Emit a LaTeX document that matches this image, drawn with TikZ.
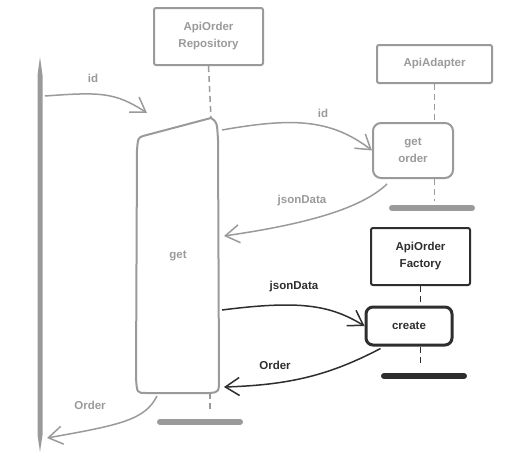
\documentclass[tikz,border=0pt]{standalone}
\usepackage{fontspec}
\setmainfont{Liberation Sans}
\usetikzlibrary{arrows.meta}
\definecolor{softgray}{HTML}{9A9A9A}
\definecolor{inkdark}{HTML}{2E2E2E}
\begin{document}
\begin{tikzpicture}[x = 1pt, y = -1pt,
    font = \fontsize{11.5}{17}\selectfont\bfseries,
    box/.style = {draw, line width = 2pt, rounded corners = 2pt, align = center, inner sep = 0pt},
    light/.style = {draw = softgray, text = softgray},
    dark/.style = {draw = inkdark, text = inkdark},
    life/.style = {dash pattern = on 6pt off 4pt, line width = 1.5pt},
    bar/.style = {line width = 6pt, line cap = round},
    msg/.style = {line width = 1.5pt, -{Straight Barb[length = 14pt, width = 18pt, line width = 1.5pt]}}]
    \useasboundingbox (0,0) rectangle (507,466);
    % participants
    \node[box, light, minimum width = 109pt, minimum height = 57pt] (repo) at (208.5,36.5) {ApiOrder\\Repository};
    \node[box, light, minimum width = 115pt, minimum height = 38pt] (adapter) at (434.5,64) {ApiAdapter};
    \node[box, light, rounded corners = 8pt, minimum width = 80pt, minimum height = 55pt] (getorder) at (413,150.5) {get\\order};
    \node[box, dark, minimum width = 99pt, minimum height = 57pt] (factory) at (420.5,256.5) {ApiOrder\\Factory};
    \node[box, dark, line width = 3pt, rounded corners = 7pt, minimum width = 86pt, minimum height = 38pt] (create) at (409,326) {create};
    % caller lifeline
    \fill[softgray] (37.5,75) -- (40,57) -- (42.5,75) -- (42.5,435) -- (40,452) -- (37.5,435) -- cycle;
    % activation of repository
    \coordinate (acttl) at (143,136);
    \coordinate (acttr) at (211,118);
    \coordinate (actbr) at (210,393);
    \draw[softgray, line width = 2pt] (acttl) -- (acttr) .. controls (217,122) .. (218,140) -- (219,378)
        .. controls (219,392) .. (actbr) -- (146,393) .. controls (137,393) .. (136,378) -- (137,150)
        .. controls (138,138) .. (acttl);
    \node[text = softgray] (get) at (178,256) {get};
    % lifelines
    \draw[life, softgray] (repo.south) -- (acttr);
    \draw[life, softgray] (actbr) -- ++(0,19) coordinate (repoend);
    \draw[bar, softgray] (160,422) -- (240,422);
    \draw[life, softgray] (adapter.south) -- (adapter.south |- getorder.north);
    \draw[life, softgray] (adapter.south |- getorder.south) -- ++(0,22);
    \draw[bar, softgray] (392,208) -- (472,208);
    \draw[life, inkdark] (factory.south) -- (factory.south |- create.north);
    \draw[life, inkdark] (factory.south |- create.south) -- ++(0,19);
    \draw[bar, inkdark] (384,376) -- (464,376);
    % messages
    \coordinate (callerout) at (45,96);
    \coordinate (callerin) at (47,438);
    \coordinate (repoin) at (147,113);
    \coordinate (repoout) at (222,130);
    \coordinate (repoback) at (224,236);
    \coordinate (repofwd) at (222,310);
    \coordinate (reporet) at (224,387);
    \coordinate (repolast) at (157,396);
    \draw[msg, softgray] (callerout) .. controls (100,92) and (115,92) .. (repoin);
    \node[text = softgray] (idone) at (93,78) {id};
    \draw[msg, softgray] (repoout) .. controls (290,118) and (330,118) .. (getorder.west);
    \node[text = softgray] (idtwo) at (323,113) {id};
    \draw[msg, softgray] (getorder.south west) ++(15,5) .. controls (360,210) and (300,225) .. (repoback);
    \node[text = softgray] (jsonone) at (302,201) {jsonData};
    \draw[msg, inkdark] (repofwd) .. controls (300,300) and (330,305) .. (create.west);
    \node[text = inkdark] (jsontwo) at (294,287) {jsonData};
    \draw[msg, inkdark] (create.south west) ++(16,2) .. controls (330,375) and (290,385) .. (reporet);
    \node[text = inkdark] (orderone) at (275,365) {Order};
    \draw[msg, softgray] (repolast) .. controls (145,420) and (120,425) .. (callerin);
    \node[text = softgray] (ordertwo) at (90,405) {Order};
\end{tikzpicture}
\end{document}
